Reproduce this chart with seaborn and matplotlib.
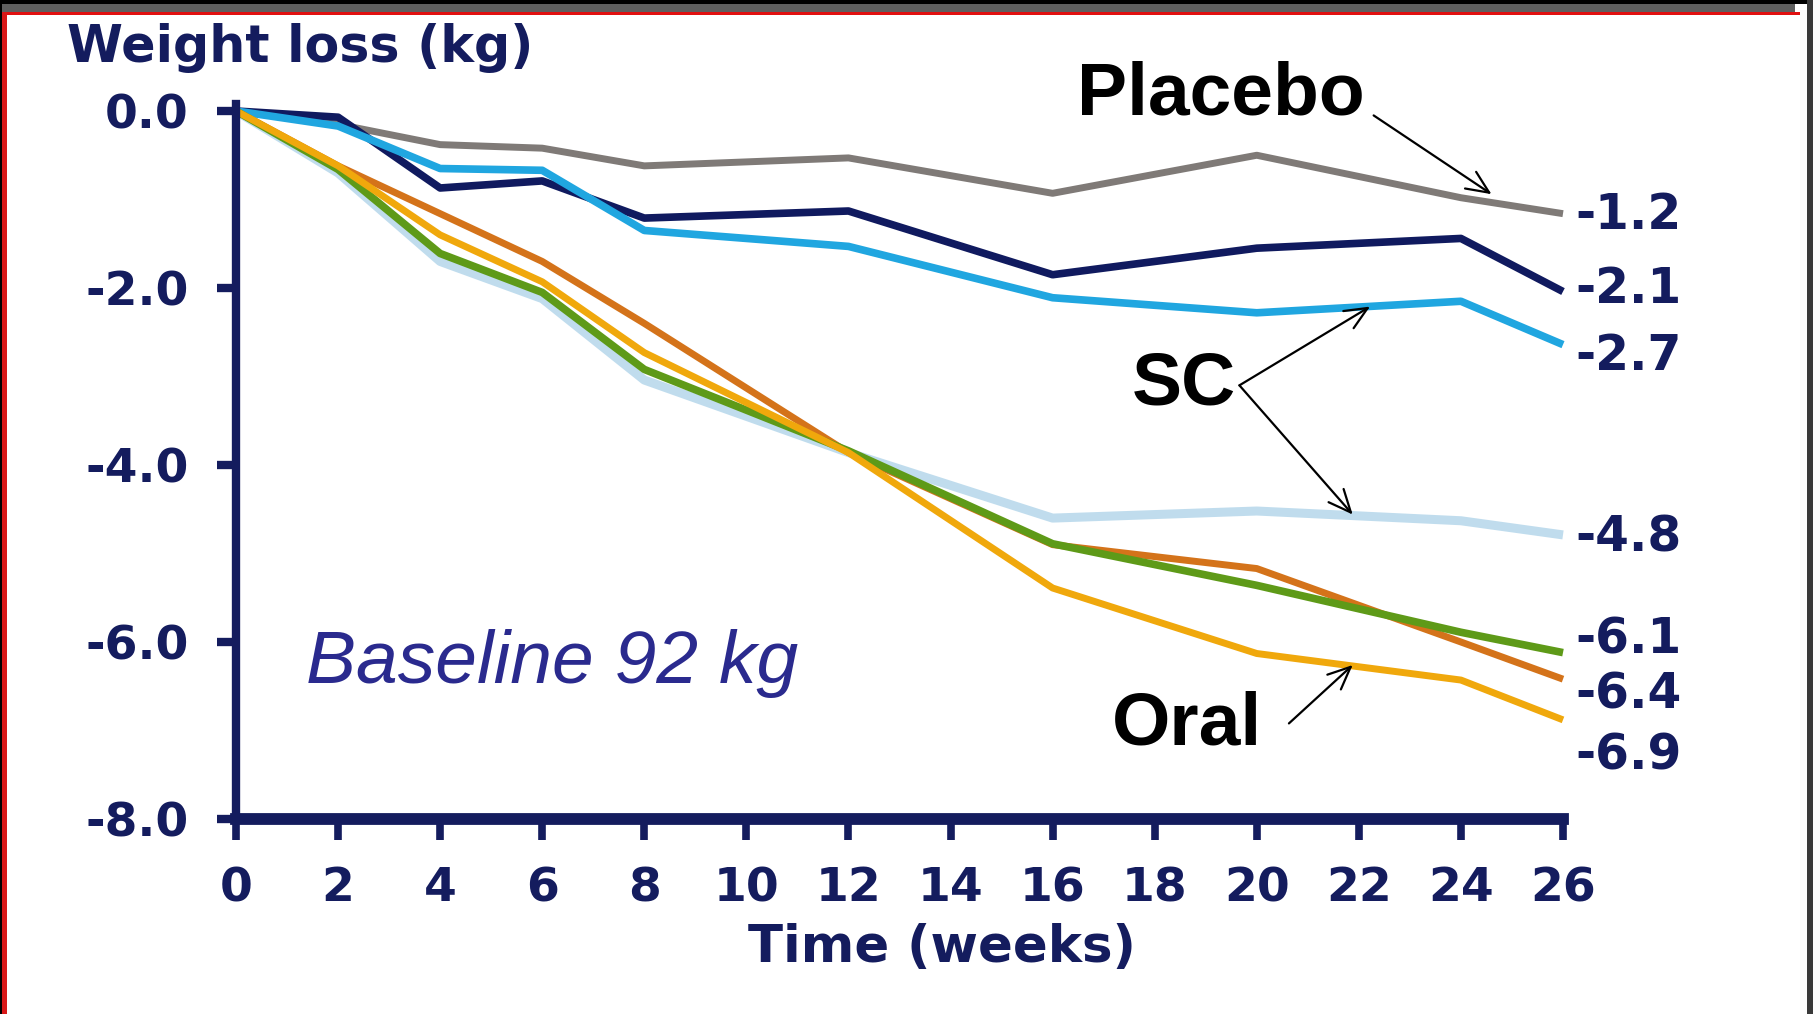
import numpy as np
import pandas as pd
import matplotlib
matplotlib.use("Agg")
import matplotlib.pyplot as plt
from matplotlib.patches import Rectangle
import seaborn as sns

# ---------------- data ----------------
weeks = [0, 2, 4, 6, 8, 12, 16, 20, 24, 26]
placebo = [0, -0.15, -0.38, -0.42, -0.62, -0.53, -0.93, -0.50, -0.98, -1.16]
sc_navy = [0, -0.07, -0.87, -0.79, -1.21, -1.13, -1.85, -1.55, -1.44, -2.04]
sc_cyan = [0, -0.17, -0.65, -0.67, -1.35, -1.53, -2.11, -2.28, -2.15, -2.64]
sc_pale = [0, -0.70, -1.70, -2.12, -3.04, -3.86, -4.60, -4.52, -4.63, -4.79]
oral_green = [0, -0.66, -1.61, -2.05, -2.92, -3.84, -4.89, -5.36, -5.89, -6.12]
oral_orange = [0, -0.62, -1.16, -1.70, -2.40, -3.86, -4.90, -5.17, -6.00, -6.42]
oral_yellow = [0, -0.62, -1.40, -1.93, -2.73, -3.86, -5.39, -6.13, -6.43, -6.88]

arm_names = ["SC pale", "Placebo", "SC navy", "SC cyan", "Oral orange", "Oral green", "Oral yellow"]
arm_values = [sc_pale, placebo, sc_navy, sc_cyan, oral_orange, oral_green, oral_yellow]
arm_colors = ["#b9d9ec", "#7f7a77", "#101a5f", "#20a6e0", "#d4731a", "#5e9a18", "#f0a80c"]
arm_widths = [6.5, 5.0, 5.5, 5.5, 5.0, 5.5, 5.0]

end_labels = ["-1.2", "-2.1", "-2.7", "-4.8", "-6.1", "-6.4", "-6.9"]
end_label_y = [-1.18, -2.01, -2.77, -4.82, -5.97, -6.59, -7.28]

x_ticks = list(range(0, 27, 2))
y_ticks = [0.0, -2.0, -4.0, -6.0, -8.0]

rows = []
for name, vals in zip(arm_names, arm_values):
    for w, v in zip(weeks, vals):
        rows.append({"week": w, "kg": v, "arm": name})
df = pd.DataFrame(rows)

# ---------------- style ----------------
sns.set_theme(style="white")
plt.rcParams["font.family"] = ["DejaVu Sans"]
plt.rcParams["axes.unicode_minus"] = False

NAVY = "#141c5e"

W, H = 1813, 1014
fig = plt.figure(figsize=(W / 100, H / 100), dpi=100)
fig.patch.set_facecolor("white")

ax_l, ax_r, ax_t, ax_b = 236, 1563, 111, 819
ax = fig.add_axes([ax_l / W, 1 - ax_b / H, (ax_r - ax_l) / W, (ax_b - ax_t) / H])
ax.set_facecolor("none")

sns.lineplot(data=df, x="week", y="kg", hue="arm", hue_order=arm_names,
             palette=dict(zip(arm_names, arm_colors)), legend=False, ax=ax,
             linewidth=5)
for line, lw in zip(ax.lines, arm_widths):
    line.set_linewidth(lw)
    line.set_clip_on(False)
    line.set_solid_joinstyle("round")
    line.set_solid_capstyle("butt")
ax.lines[0].set_alpha(0.9)

ax.set_xlim(0, 26)
ax.set_ylim(-8, 0)
ax.set_xticks(x_ticks)
ax.set_xticklabels([str(t) for t in x_ticks])
ax.set_yticks(y_ticks)
ax.set_yticklabels([f"{t:.1f}" for t in y_ticks])

for s in ["top", "right"]:
    ax.spines[s].set_visible(False)
ax.spines["left"].set_color(NAVY)
ax.spines["left"].set_linewidth(6)
ax.spines["bottom"].set_color(NAVY)
ax.spines["bottom"].set_linewidth(8.5)
ax.spines["left"].set_bounds(-8, 0.08)

ax.tick_params(axis="x", direction="out", length=15, width=5.5, color=NAVY,
               pad=19, labelsize=34, labelcolor=NAVY, bottom=True)
ax.tick_params(axis="y", direction="out", length=14, width=6, color=NAVY,
               pad=20, labelsize=34, labelcolor=NAVY, left=True)
for lab in ax.get_xticklabels() + ax.get_yticklabels():
    lab.set_fontweight("bold")

ax.set_ylabel("")
ax.set_xlabel("Time (weeks)", fontsize=37, fontweight="bold", color=NAVY)
ax.xaxis.set_label_coords((942 - ax_l) / (ax_r - ax_l), (ax_b - 948) / (ax_b - ax_t))
ax.xaxis.label.set_va("center")

fig.text(67 / W, 1 - 48 / H, "Weight loss (kg)", fontsize=36.5, fontweight="bold",
         color=NAVY, ha="left", va="center")

# end-value labels
for lab, yv in zip(end_labels, end_label_y):
    ax.text(26.25, yv, lab, fontsize=35, fontweight="bold", color=NAVY,
            ha="left", va="center", clip_on=False)

# group annotations
big = dict(fontsize=54, fontweight="bold", color="black",
           family=["Liberation Sans", "DejaVu Sans"], ha="center", va="center")
ax.text(19.3, 0.18, "Placebo", clip_on=False, **big)
ax.text(18.57, -3.10, "SC", **big)
ax.text(18.64, -6.94, "Oral", **big)

aprops = dict(arrowstyle="->,head_length=0.9,head_width=0.4", color="black",
              lw=1.6, shrinkA=0, shrinkB=0, mutation_scale=18)
ax.annotate("", xy=(24.6, -0.94), xytext=(22.29, -0.05), arrowprops=aprops,
            annotation_clip=False)
ax.annotate("", xy=(22.22, -2.21), xytext=(19.66, -3.10), arrowprops=aprops)
ax.annotate("", xy=(21.88, -4.56), xytext=(19.66, -3.10), arrowprops=aprops)
ax.annotate("", xy=(21.88, -6.26), xytext=(20.63, -6.92), arrowprops=aprops)

ax.text(1.38, -6.24, "Baseline 92 kg", fontsize=54, fontstyle="italic",
        color="#2a2a8e", family=["Liberation Sans", "DejaVu Sans"],
        ha="left", va="center")

# screenshot frame
def frect(x0, y0, x1, y1, c):
    fig.patches.append(Rectangle((x0 / W, 1 - y1 / H), (x1 - x0) / W, (y1 - y0) / H,
                                 transform=fig.transFigure, facecolor=c,
                                 edgecolor="none", zorder=10))

frect(0, 0, W, 4, "#000000")
frect(0, 4, 1795, 12, "#5f5f5f")
frect(0, 12, 1800, 15, "#e01010")
frect(0, 0, 2, H, "#000000")
frect(2, 12, 7, H, "#d81818")
frect(1807, 0, W, H, "#3a3a3a")

fig.savefig("out.png", dpi=100, facecolor="white")
